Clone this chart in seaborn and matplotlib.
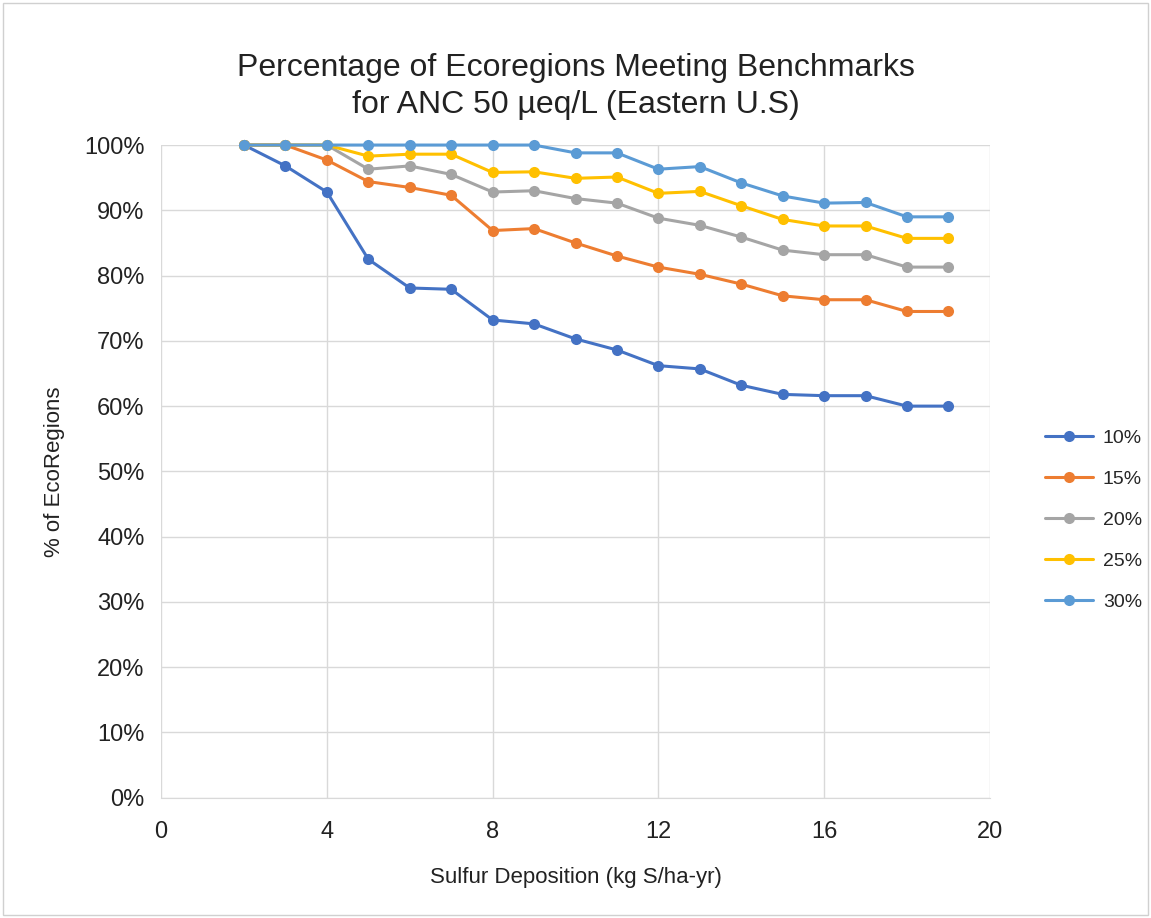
import numpy as np
import pandas as pd
import matplotlib
matplotlib.use('Agg')
import matplotlib.pyplot as plt
from matplotlib.ticker import PercentFormatter
import seaborn as sns

# data
deposition = [2, 3, 4, 5, 6, 7, 8, 9, 10, 11, 12, 13, 14, 15, 16, 17, 18, 19]
pct_10 = [100, 96.8, 92.8, 82.5, 78.1, 77.9, 73.2, 72.6, 70.3, 68.6, 66.2, 65.7, 63.2, 61.8, 61.6, 61.6, 60.0, 60.0]
pct_15 = [100, 100, 97.7, 94.4, 93.5, 92.3, 86.9, 87.2, 85.0, 83.0, 81.3, 80.2, 78.7, 76.9, 76.3, 76.3, 74.5, 74.5]
pct_20 = [100, 100, 100, 96.3, 96.8, 95.5, 92.8, 93.0, 91.8, 91.1, 88.8, 87.7, 85.9, 83.9, 83.2, 83.2, 81.3, 81.3]
pct_25 = [100, 100, 100, 98.3, 98.6, 98.6, 95.8, 95.9, 94.9, 95.1, 92.6, 92.9, 90.7, 88.6, 87.6, 87.6, 85.7, 85.7]
pct_30 = [100, 100, 100, 100, 100, 100, 100, 100, 98.8, 98.8, 96.3, 96.7, 94.2, 92.2, 91.1, 91.2, 89.0, 89.0]
series_names = ['10%', '15%', '20%', '25%', '30%']
colors = ['#4472C4', '#ED7D31', '#A5A5A5', '#FFC000', '#5B9BD5']

# long format for seaborn
frames = []
for name, vals in zip(series_names, [pct_10, pct_15, pct_20, pct_25, pct_30]):
    frames.append(pd.DataFrame({'x': deposition, 'y': vals, 'series': name}))
df = pd.concat(frames, ignore_index=True)

sns.set_style('white')
plt.rcParams['font.family'] = ['Liberation Sans', 'DejaVu Sans']

fig = plt.figure(figsize=(11.51, 9.18), dpi=100)
ax = fig.add_axes([0.140, 0.131, 0.720, 0.711])

sns.lineplot(data=df, x='x', y='y', hue='series', palette=colors,
             marker='o', markersize=8, markeredgewidth=0, linewidth=2.2,
             ax=ax, legend=True)
for line in ax.lines:
    line.set_clip_on(False)

ax.set_xlim(0, 20)
ax.set_ylim(0, 100)
ax.set_xticks([0, 4, 8, 12, 16, 20])
ax.set_yticks(np.arange(0, 101, 10))
ax.yaxis.set_major_formatter(PercentFormatter(decimals=0))
ax.grid(True, color='#d9d9d9', linewidth=1)
ax.set_axisbelow(True)
for side in ['top', 'right', 'left']:
    ax.spines[side].set_visible(False)
ax.spines['bottom'].set_color('#d9d9d9')
ax.tick_params(axis='both', labelsize=17, colors='#222222', length=0)
ax.tick_params(axis='x', pad=17)
ax.tick_params(axis='y', pad=12)

ax.set_xlabel('Sulfur Deposition (kg S/ha-yr)', fontsize=16, color='#222222', labelpad=17)
ax.set_ylabel('% of EcoRegions', fontsize=16, color='#222222', labelpad=14)
fig.text(0.50, 0.906, 'Percentage of Ecoregions Meeting Benchmarks\nfor ANC 50 \u00b5eq/L (Eastern U.S)',
         ha='center', va='center', fontsize=23, color='#222222', linespacing=1.3)

leg = ax.legend(title=None, loc='center left', bbox_to_anchor=(1.045, 0.425), frameon=False,
                fontsize=14, handlelength=2.5, handletextpad=0.5, labelspacing=1.2)

fig.patches.append(plt.Rectangle((0.003, 0.003), 0.994, 0.994, transform=fig.transFigure,
                                 fill=False, edgecolor='#d0d0d0', linewidth=1))

fig.savefig('out.png', dpi=100)
